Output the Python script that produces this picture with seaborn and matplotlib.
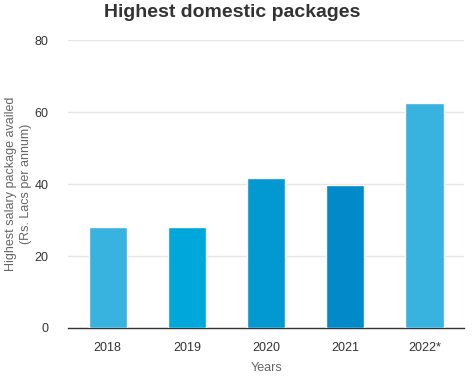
import pandas as pd
import matplotlib
matplotlib.use("Agg")
import matplotlib.pyplot as plt
import seaborn as sns

# Data
years = ["2018", "2019", "2020", "2021", "2022*"]
packages = [28, 28, 41.7, 39.7, 62.5]
bar_colors = ["#38b2de", "#00a7da", "#0299d3", "#008aca", "#38b2de"]

df = pd.DataFrame({"Year": years, "Package": packages})

sns.set_style("white")
plt.rcParams["font.family"] = ["Liberation Sans", "DejaVu Sans"]

fig = plt.figure(figsize=(4.76, 3.79), dpi=100)
ax = fig.add_axes([0.143, 0.1346, 0.832, 0.7594])

sns.barplot(data=df, x="Year", y="Package", hue="Year", palette=bar_colors,
            legend=False, width=0.48, saturation=1, ax=ax, zorder=3)

ax.set_ylim(0, 80)
ax.set_yticks([0, 20, 40, 60, 80])
ax.yaxis.grid(True, color="#e6e6e6", linewidth=1, zorder=0)
ax.set_axisbelow(True)

for side in ["top", "right", "left"]:
    ax.spines[side].set_visible(False)
ax.spines["bottom"].set_color("#333333")
ax.spines["bottom"].set_linewidth(1)

ax.tick_params(axis="both", length=0, labelsize=9, labelcolor="#333333")
ax.tick_params(axis="y", pad=14)
ax.tick_params(axis="x", pad=10)

ax.set_xlabel("Years", fontsize=9, color="#666666", labelpad=6)
ax.set_ylabel("Highest salary package availed\n(Rs. Lacs per annum)",
              fontsize=9, color="#666666", labelpad=2, linespacing=1.35)

fig.suptitle("Highest domestic packages", x=0.488, y=0.99, fontsize=14,
             fontweight="bold", color="#333333")

plt.savefig("out.png", dpi=100)
